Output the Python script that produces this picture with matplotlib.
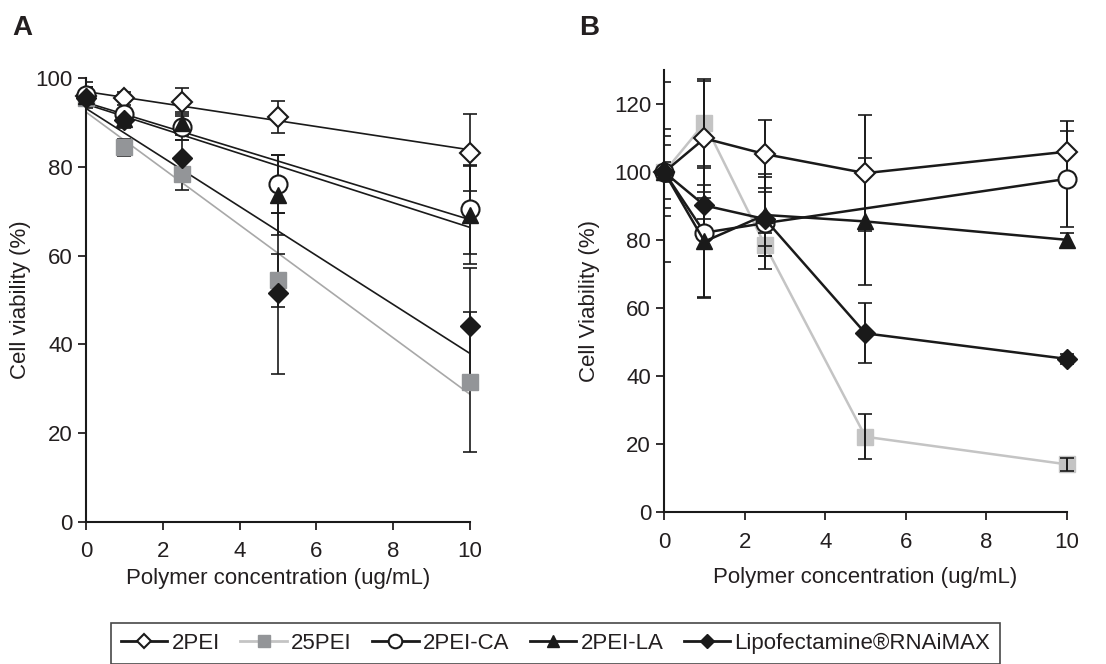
import numpy as np
import matplotlib
matplotlib.use('Agg')
import matplotlib.pyplot as plt
from matplotlib.lines import Line2D

plt.rcParams['font.family'] = ['Liberation Sans', 'DejaVu Sans']
plt.rcParams['text.color'] = '#231f20'
plt.rcParams['axes.labelcolor'] = '#231f20'
plt.rcParams['xtick.color'] = '#231f20'
plt.rcParams['ytick.color'] = '#231f20'

conc = [0, 1, 2.5, 5, 10]

# panel A values (% viability) and errors
a_2pei = [96.0, 95.5, 94.7, 91.3, 83.2]
a_2pei_err = [2.0, 1.5, 3.2, 3.6, 8.7]
a_25pei = [95.5, 84.4, 78.3, 54.4, 31.5]
a_25pei_err = [1.5, 2.0, 3.4, 6.0, 15.8]
a_ca = [96.2, 92.0, 89.0, 76.2, 70.4]
a_ca_err = [3.0, 3.0, 3.0, 6.6, 10.0]
a_la = [96.0, 90.9, 89.8, 73.6, 69.1]
a_la_err = [2.0, 2.0, 2.5, 9.0, 11.0]
a_lipo = [95.5, 90.7, 82.0, 51.5, 44.0]
a_lipo_err = [2.0, 2.0, 4.0, 18.2, 13.3]

# panel B values
b_2pei = [100, 109.9, 105.3, 99.7, 106.0]
b_2pei_err = [8.0, 17.5, 10.0, 17.0, 9.0]
b_25pei = [100, 114.4, 78.6, 22.2, 14.1]
b_25pei_err = [12.8, 12.5, 3.4, 6.6, 2.0]
b_ca_conc = [0, 1, 2.5, 10]
b_ca = [100, 82.2, 85.0, 98.0]
b_ca_err = [10.5, 19.0, 13.5, 14.0]
b_la = [100, 79.6, 87.4, 85.5, 80.1]
b_la_err = [26.5, 16.5, 12.0, 18.7, 2.0]
b_lipo = [100, 90.2, 86.2, 52.6, 45.1]
b_lipo_err = [3.0, 4.0, 8.0, 8.8, 1.5]

names = ['2PEI', '25PEI', '2PEI-CA', '2PEI-LA', 'Lipofectamine®RNAiMAX']

dark = '#1a1a1a'
grayA = '#939598'
grayB = '#c4c4c4'
grayline = '#a8a8a8'

styles = [
    dict(marker='D', mfc='white', mec=dark, ms=10, mew=1.5),
    dict(marker='s', mfc=grayA, mec=grayA, ms=12),
    dict(marker='o', mfc='white', mec=dark, ms=13, mew=1.5),
    dict(marker='^', mfc=dark, mec=dark, ms=12),
    dict(marker='D', mfc=dark, mec=dark, ms=10),
]


def draw_err(ax, x, y, e, lw):
    # bars at x=0 stay clipped by the axis, the rest are drawn in full
    x = np.asarray(x, float)
    y = np.asarray(y, float)
    e = np.asarray(e, float)
    for sel, clip in ((x == 0, True), (x != 0, False)):
        c = ax.errorbar(x[sel], y[sel], yerr=e[sel], fmt='none', ecolor=dark,
                        elinewidth=lw, capsize=5, capthick=1.2, zorder=3)
        for art in c.get_children():
            art.set_clip_on(clip)


fig = plt.figure(figsize=(11.06, 6.64), dpi=100)
axA = fig.add_axes([0.0778, 0.2146, 0.347, 0.6675])
axB = fig.add_axes([0.6006, 0.2285, 0.3638, 0.666])

# panel A: markers with linear trend lines
a_sets = [(a_2pei, a_2pei_err), (a_25pei, a_25pei_err), (a_ca, a_ca_err),
          (a_la, a_la_err), (a_lipo, a_lipo_err)]
xfit = np.array([0, 10])
for i, (y, e) in enumerate(a_sets):
    lc = grayline if i == 1 else dark
    k, b = np.polyfit(conc, y, 1)
    axA.plot(xfit, k * xfit + b, color=lc, lw=1.2, zorder=2)
    draw_err(axA, conc, y, e, 1.2)
    axA.plot(conc, y, ls='none', zorder=4, clip_on=False, **styles[i])

# panel B: connected points
b_sets = [(conc, b_2pei, b_2pei_err), (conc, b_25pei, b_25pei_err),
          (b_ca_conc, b_ca, b_ca_err), (conc, b_la, b_la_err),
          (conc, b_lipo, b_lipo_err)]
for i, (x, y, e) in enumerate(b_sets):
    st = dict(styles[i])
    lc = dark
    if i == 1:
        st['mfc'] = grayB
        st['mec'] = grayB
        lc = grayB
    draw_err(axB, x, y, e, 1.4)
    axB.plot(x, y, color=lc, lw=1.8, zorder=4 if i != 1 else 2,
             clip_on=False, **st)

for ax in (axA, axB):
    for s in ('top', 'right'):
        ax.spines[s].set_visible(False)
    for s in ('left', 'bottom'):
        ax.spines[s].set_linewidth(1.5)
        ax.spines[s].set_color(dark)
    ax.tick_params(direction='out', length=6, width=1.3, labelsize=16)
    ax.tick_params(axis='x', pad=8)
    ax.set_xlim(0, 10)
    ax.set_xticks([0, 2, 4, 6, 8, 10])

axA.set_xlabel('Polymer concentration (ug/mL)', fontsize=16, labelpad=4)
axB.set_xlabel('Polymer concentration (ug/mL)', fontsize=16, labelpad=10)

axA.set_ylim(0, 100)
axA.set_yticks(np.arange(0, 101, 20))
axA.set_ylabel('Cell viability (%)', fontsize=16, labelpad=3)
axB.set_ylim(0, 130)
axB.set_yticks(np.arange(0, 121, 20))
axB.set_ylabel('Cell Viability (%)', fontsize=16)
axB.yaxis.set_label_coords(-0.16, 0.477)

fig.text(0.011, 0.947, 'A', fontsize=20, fontweight='bold')
fig.text(0.524, 0.947, 'B', fontsize=20, fontweight='bold')

handles = []
for i in range(5):
    st = dict(styles[i])
    lc = grayB if i == 1 else dark
    st['ms'] = st['ms'] * 0.75
    handles.append(Line2D([], [], color=lc, lw=2, **st))
leg = fig.legend(handles, names, loc='upper center', ncol=5,
                 bbox_to_anchor=(0.5024, 1 - 623 / 664), fontsize=16,
                 frameon=True, fancybox=False, edgecolor=dark,
                 handlelength=2.1, handletextpad=0.2, columnspacing=0.9,
                 borderpad=0.45, borderaxespad=0)
leg.get_frame().set_linewidth(1.2)

fig.savefig('out.png', dpi=100)
